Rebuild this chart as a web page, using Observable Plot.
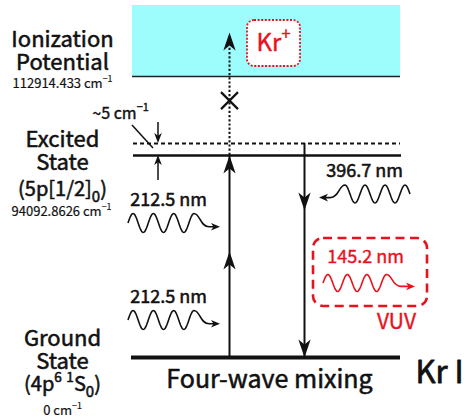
<!DOCTYPE html>
<html><head><meta charset="utf-8">
<script src="https://cdn.jsdelivr.net/npm/d3@7"></script>
<script src="https://cdn.jsdelivr.net/npm/@observablehq/plot@0.6"></script>
<style>
html,body{margin:0;padding:0;background:#fff;}
#chart{width:474px;height:419px;}
</style></head><body><div id="chart"></div>
<script>
// ---------------- data ----------------
const levelNames = ["Ground", "Excited", "Ionization"];
const levelEnergies = [0, 94092.8626, 112914.433];           // cm^-1
const levelTitles = ["Ground\nState", "Excited\nState", "Ionization\nPotential"];
const levelTerms = ["(4p^{6} ^{1}S_{0})", "(5p[1/2]_{0})", ""];
const levelEnergyLabels = ["0 cm^{−1}", "94092.8626 cm^{−1}", "112914.433 cm^{−1}"];
const detuning = 5;                                           // cm^-1 (two-photon detuning)
const detuningLabel = "~5 cm^{−1}";
const photonLabels = ["212.5 nm", "212.5 nm", "396.7 nm", "145.2 nm"];
const ionLabel = "Kr^{+}";
const processLabel = "Four-wave mixing";
const speciesLabel = "Kr I";
const vuvLabel = "VUV";
const continuumTop = 125000;     // schematic top of the ionization continuum
const ionizationProbe = 120400;  // schematic end of the (blocked) ionization arrow

// ---------------- layout / style ----------------
const FONT = '"Noto Sans CJK JP", "Noto Sans", sans-serif';
const RED = "#e8121c";
const CYAN = "#9dfcfc";
const L = {
  yRange: [357, 155, 143, 76, 5],
  levelX1: 132, levelX2: 400,
  upX: 229, downX: 304,
  upHeadFrac: 0.525, downHeadFrac: 0.2723, crossFrac: 0.64
};

const E0 = levelEnergies[0], E1 = levelEnergies[1], IP = levelEnergies[2];
const Ev = E1 + detuning;
// schematic (broken) energy axis: piecewise-linear energy -> vertical position
const energyAxis = d3.scaleLinear().domain([E0, E1, Ev, IP, continuumTop]).range(L.yRange);

// transitions: from / to energies
const upFrom = [E0], upTo = [E1];
const ionFrom = [E1], ionTo = [ionizationProbe];
const downFrom = [Ev], downTo = [E0];

// arrowhead symbols (tip at the origin)
const stealthUp = {draw(ctx, size) { const r = Math.sqrt(size / Math.PI), l = 2 * r, w = 0.68 * r;
  ctx.moveTo(0, 0); ctx.lineTo(w, l); ctx.lineTo(0, 0.72 * l); ctx.lineTo(-w, l); ctx.closePath(); }};
const stealthDown = {draw(ctx, size) { const r = Math.sqrt(size / Math.PI), l = 2 * r, w = 0.68 * r;
  ctx.moveTo(0, 0); ctx.lineTo(w, -l); ctx.lineTo(0, -0.72 * l); ctx.lineTo(-w, -l); ctx.closePath(); }};
const crossSym = {draw(ctx, size) { const r = Math.sqrt(size / Math.PI);
  ctx.moveTo(-r, -r); ctx.lineTo(r, r); ctx.moveTo(r, -r); ctx.lineTo(-r, r); }};

function label(text, xpx, energy, dy, o = {}) {
  const fill = o.fill || "#111";
  return Plot.text([text], {
    x: () => xpx, y: () => energy, text: d => d, dy,
    fontSize: o.size, textAnchor: o.anchor || "middle", fill,
    stroke: fill, strokeWidth: o.sw ?? 0.55, paintOrder: "stroke",
    fontWeight: 400, lineHeight: o.lh || 1, fontFamily: FONT
  });
}

function wave(x0, yc, dir, tipX, A, P) {
  const n = 3.25, pts = [];
  for (let k = 0; k <= 78; k++) { const t = k * n * P / 78; pts.push([x0 + dir * t, yc - A * Math.sin(2 * Math.PI * t / P)]); }
  let d = "M" + pts.map(p => p[0].toFixed(2) + "," + p[1].toFixed(2)).join("L");
  const xp = x0 + dir * n * P, yp = yc - A, ty = yc + 0.4 * A;
  d += `C${xp + dir * 0.3 * P},${yp} ${xp + dir * 0.3 * P},${ty} ${xp + dir * 0.75 * P},${ty}L${tipX - dir * 3},${ty}`;
  const head = `M${tipX},${ty}L${tipX - dir * 9},${ty - 3.8}L${tipX - dir * 6.5},${ty}L${tipX - dir * 9},${ty + 3.8}Z`;
  return {d, head};
}

function stealthPath(x, y, up, l, w) {
  const s = up ? 1 : -1;
  return `M${x},${y}L${x + w},${y + s * l}L${x},${y + s * 0.72 * l}L${x - w},${y + s * l}Z`;
}

function decorations(index, scales) {
  const X = scales.x, Y = e => scales.y(energyAxis(e));
  const g = d3.create("svg:g");
  const yE0 = Y(E0), yE1 = Y(E1), yEv = Y(Ev), yIP = Y(IP);
  // Kr+ box
  g.append("rect").attr("x", X(247)).attr("y", yIP - 56).attr("width", 53).attr("height", 46)
    .attr("rx", 7).attr("fill", "white").attr("stroke", RED).attr("stroke-width", 1.8).attr("stroke-dasharray", "2,1.6");
  // VUV box
  g.append("rect").attr("x", X(313)).attr("y", yE0 - 119).attr("width", 114).attr("height", 68)
    .attr("rx", 10).attr("fill", "none").attr("stroke", RED).attr("stroke-width", 2.6).attr("stroke-dasharray", "9,5.5");
  // photon waves
  const waves = [
    {x0: X(128), yc: yE1 + 68, dir: 1, tip: X(220), A: 9.5, P: 20.3, c: "#111"},
    {x0: X(128), yc: yE0 - 37, dir: 1, tip: X(220), A: 9.5, P: 20.3, c: "#111"},
    {x0: X(410), yc: yE1 + 39, dir: -1, tip: X(319), A: 9, P: 20, c: "#111"},
    {x0: X(323), yc: yE0 - 74, dir: 1, tip: X(415), A: 8.5, P: 19.5, c: RED}
  ];
  for (const w of waves) {
    const p = wave(w.x0, w.yc, w.dir, w.tip, w.A, w.P);
    g.append("path").attr("d", p.d).attr("fill", "none").attr("stroke", w.c).attr("stroke-width", 1.6);
    g.append("path").attr("d", p.head).attr("fill", w.c);
  }
  // detuning annotation
  const xd = X(158);
  g.append("line").attr("x1", xd).attr("x2", xd).attr("y1", yEv - 21).attr("y2", yEv - 4).attr("stroke", "#111").attr("stroke-width", 1.5);
  g.append("path").attr("d", stealthPath(xd, yEv, false, 10, 3.8)).attr("fill", "#111");
  g.append("line").attr("x1", xd).attr("x2", xd).attr("y1", yE1 + 25).attr("y2", yE1 + 4).attr("stroke", "#111").attr("stroke-width", 1.5);
  g.append("path").attr("d", stealthPath(xd, yE1, true, 10, 3.8)).attr("fill", "#111");
  g.append("line").attr("x1", X(132)).attr("y1", yEv - 18).attr("x2", X(153)).attr("y2", yEv + 5).attr("stroke", "#111").attr("stroke-width", 1.5);
  return g.node();
}

const chart = Plot.plot({
  width: 474, height: 419, margin: 0,
  x: {domain: [0, 474], range: [0, 474], axis: null},
  y: {domain: [0, 419], range: [0, 419], transform: energyAxis, axis: null},
  style: {fontFamily: FONT, background: "white", color: "#111"},
  marks: [
    // continuum
    Plot.rect([IP], {x1: () => L.levelX1, x2: () => L.levelX2, y1: d => d, y2: () => continuumTop, fill: CYAN}),
    decorations,
    // levels
    Plot.ruleY([IP], {y: d => d, x1: () => L.levelX1, x2: () => L.levelX2, stroke: "#222", strokeWidth: 1.6}),
    Plot.ruleY([Ev], {y: d => d, x1: () => L.levelX1 + 1, x2: () => L.levelX2, stroke: "#111", strokeWidth: 2, strokeDasharray: "4,3"}),
    Plot.ruleY([E1], {y: d => d, x1: () => L.levelX1 + 1, x2: () => L.levelX2 + 1, stroke: "#111", strokeWidth: 2.5}),
    Plot.ruleY([E0], {y: d => d, x1: () => L.levelX1 - 1, x2: () => L.levelX2, stroke: "#111", strokeWidth: 4}),
    // transitions
    Plot.ruleX(upFrom, {x: () => L.upX, y1: d => d, y2: (d, i) => upTo[i], stroke: "#111", strokeWidth: 2}),
    Plot.ruleX(ionFrom, {x: () => L.upX, y1: d => d, y2: (d, i) => ionTo[i] - 2500, stroke: "#111", strokeWidth: 2, strokeDasharray: "2.2,2"}),
    Plot.ruleX(downFrom, {x: () => L.downX, y1: d => d, y2: (d, i) => downTo[i], stroke: "#111", strokeWidth: 2}),
    Plot.dot([upFrom[0] + L.upHeadFrac * (upTo[0] - upFrom[0]), upTo[0], ionTo[0]],
      {x: () => L.upX, y: d => d, symbol: stealthUp, r: 9, fill: "#111", stroke: "none"}),
    Plot.dot([downFrom[0] + L.downHeadFrac * (downTo[0] - downFrom[0]), downTo[0]],
      {x: () => L.downX, y: d => d, symbol: stealthDown, r: 9, fill: "#111", stroke: "none"}),
    Plot.dot([Ev + L.crossFrac * (IP - Ev)], {x: () => L.upX, y: d => d, symbol: crossSym, r: 8.5, fill: "none", stroke: "#111", strokeWidth: 2.2}),
    // level labels
    label(levelTitles[2], 62, IP, -25.5, {size: 22, lh: 1.05}),
    label(levelTitles[1], 62, E1, -4.5, {size: 22, lh: 1.05}),
    label(levelTitles[0], 62, E0, -7.5, {size: 22, lh: 1.05}),
    label(levelTerms[1], 62, E1, 34, {size: 20}),
    label(levelTerms[0], 62, E0, 27, {size: 20}),
    label(levelEnergyLabels[2], 62, IP, 7, {size: 13, sw: 0.2}),
    label(levelEnergyLabels[1], 61, E1, 56, {size: 13, sw: 0.2}),
    label(levelEnergyLabels[0], 62, E0, 53, {size: 13, sw: 0.2}),
    label(detuningLabel, 120, Ev, -30, {size: 16, sw: 0.4}),
    // photons
    label(photonLabels[0], 168, E1, 45, {size: 18}),
    label(photonLabels[1], 168, E0, -60, {size: 18}),
    label(photonLabels[2], 364, E1, 16, {size: 18}),
    label(photonLabels[3], 365, E0, -100, {size: 18, fill: RED, sw: 0.4}),
    label(vuvLabel, 396, E0, -35, {size: 21, fill: RED, sw: 0.4}),
    label(ionLabel, 273, IP, -33, {size: 24, fill: RED, sw: 0.4}),
    label(processLabel, 269, E0, 22, {size: 25}),
    label(speciesLabel, 415, E0, 16, {size: 31, anchor: "start", sw: 0.8})
  ]
});

document.getElementById("chart").appendChild(chart);

// rich text: ^{..} superscript, _{..} subscript
function richify(el) {
  const s = el.textContent;
  if (!/[_^]\{/.test(s)) return;
  const fs = parseFloat(getComputedStyle(el).fontSize);
  while (el.firstChild) el.removeChild(el.firstChild);
  let cur = 0;
  for (const p of s.split(/([_^]\{[^}]*\})/)) {
    if (!p) continue;
    const t = document.createElementNS("http://www.w3.org/2000/svg", "tspan");
    let target = 0, text = p, size = null;
    if (p.startsWith("^{")) { target = -0.45 * fs; text = p.slice(2, -1); size = 0.68 * fs; }
    else if (p.startsWith("_{")) { target = 0.32 * fs; text = p.slice(2, -1); size = 0.75 * fs; }
    if (target !== cur) t.setAttribute("dy", (target - cur).toFixed(2));
    cur = target;
    if (size) t.setAttribute("font-size", size.toFixed(2));
    t.textContent = text;
    el.appendChild(t);
  }
}
chart.querySelectorAll("text").forEach(richify);
</script>
</body></html>
